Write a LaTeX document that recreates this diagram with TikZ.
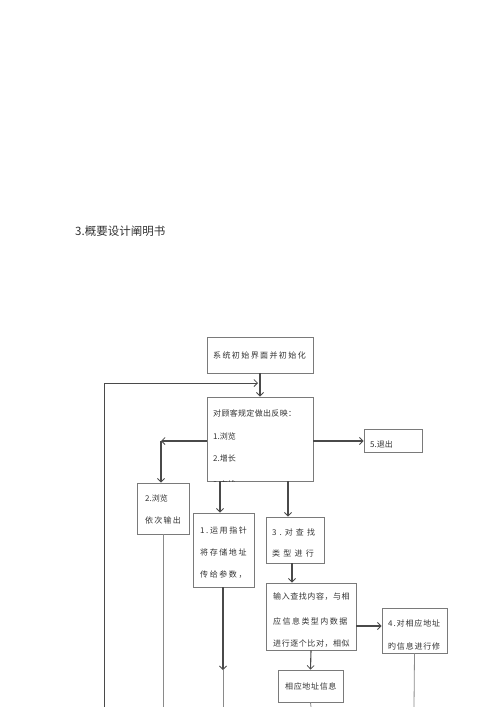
\documentclass[tikz,border=0pt]{standalone}
\usepackage{fontspec}
\usetikzlibrary{arrows.meta}
\newfontfamily\cjk{Noto Sans CJK SC}
\newcommand{\ls}[1]{\addfontfeature{LetterSpace=#1}}
\definecolor{boxc}{HTML}{7A7A7A}
\definecolor{arrc}{HTML}{4A4A4A}
\definecolor{linec}{HTML}{8A8A8A}
\definecolor{txtc}{HTML}{333333}
\tikzset{
  box/.style={draw=boxc, line width=0.9pt, inner sep=0pt, fill=none},
  txt/.style={anchor=west, inner sep=0pt, text=txtc, font=\cjk\fontsize{8}{8}\selectfont},
  arr/.style={draw=arrc, line width=1.1pt, -{Straight Barb[length=3.5pt,width=7pt,line width=0.8pt]}},
  plain/.style={draw=linec, line width=0.8pt},
}
\begin{document}
\begin{tikzpicture}[x=1pt,y=-1pt]
\useasboundingbox (0,0) rectangle (500,707);
\fill[white] (0,0) rectangle (500,707);

% title
\node[anchor=west, inner sep=0pt, text=txtc, font=\cjk\fontsize{11.5}{11.5}\selectfont] (title) at (75,231) {3.概要设计阐明书};

% boxes
\node[box, minimum width=106pt, minimum height=36pt] (b1) at (260,355) {};
\node[box, minimum width=106pt, minimum height=84pt] (b2) at (260,439) {};
\node[box, minimum width=58pt, minimum height=23pt] (b5) at (393,440.5) {};
\node[box, minimum width=52pt, minimum height=51pt] (bB) at (163,508.5) {};
\node[box, minimum width=61pt, minimum height=74pt] (bP) at (223.5,550) {};
\node[box, minimum width=58pt, minimum height=46pt] (bC) at (295,540) {};
\node[box, minimum width=90pt, minimum height=67pt] (bI) at (311,616.5) {};
\node[box, minimum width=65pt, minimum height=45pt] (b4) at (414.5,630.5) {};
\node[box, minimum width=65pt, minimum height=32pt] (bA) at (310.5,686) {};

% texts
\node[txt] (t1) at (213,355) {\ls{17.5}系统初始界面并初始化};
\node[txt] (t2a) at (213,413) {\ls{4}对顾客规定做出反映：};
\node[txt] (t2b) at (213,436) {1.浏览};
\node[txt] (t2c) at (213,458) {2.增长};
\begin{scope}
\clip (207,397) rectangle (313,481);
\node[txt] (t2d) at (213,484.5) {3.查找};
\end{scope}
\node[txt] (t5) at (370,444) {5.退出};
\node[txt] (tBa) at (145,498) {2.浏览};
\node[txt] (tBb) at (145,520) {\ls{15}依次输出};
\node[txt] (tPa) at (200,530) {\ls{20}1.运用指针};
\node[txt] (tPb) at (200,552) {\ls{20}将存储地址};
\node[txt] (tPc) at (200,575) {\ls{20}传给参数，};
\node[txt] (tCa) at (272,532) {\ls{38}3.对查找};
\node[txt] (tCb) at (272,553) {\ls{40}类型进行};
\node[txt] (tIa) at (273,597) {\ls{7}输入查找内容，与相};
\node[txt] (tIb) at (273,621) {\ls{18}应信息类型内数据};
\node[txt] (tIc) at (273,644) {\ls{7}进行逐个比对，相似};
\node[txt] (t4a) at (388,623) {\ls{11}4.对相应地址};
\node[txt] (t4b) at (388,646) {\ls{10}旳信息进行修};
\node[txt] (tA) at (285,686) {\ls{8}相应地址信息};

% coordinates
\coordinate (Lbot) at (104,707);
\coordinate (Ltop) at (104,383);
\coordinate (Lend) at (258,383);
\coordinate (LB) at (161,441);
\coordinate (Pmid) at (223,670);
\coordinate (Pbot) at (223,707);
\coordinate (Bbot) at (163,707);
\coordinate (Fbot) at (414,707);
\coordinate (Abot) at (311,707);

% connectors
\draw[arr] (b1.south) -- (b2.north);
\draw[plain, draw=arrc, line width=1pt] (Lbot) -- (Ltop);
\draw[arr, line width=1pt] (Ltop) -- (Lend);
\draw[arr] (b2.west |- LB) -- (LB);
\draw[arr] (LB) -- (LB |- bB.north);
\draw[arr] (b2.east |- 0,441) -- (b5.west |- 0,441);
\draw[arr] (220,0 |- b2.south) -- (220,0 |- bP.north);
\draw[arr] (288,0 |- b2.south) -- (288,0 |- bC.north);
\draw[arr] (292,0 |- bC.south) -- (292,0 |- bI.north);
\draw[arr] (bI.east |- 0,626) -- (b4.west |- 0,626);
\draw[arr] (bI.south) -- (bA.north);
\draw[plain] (bB.south) -- (Bbot);
\draw[arr] (Pmid |- bP.south) -- (Pmid);
\draw[plain] (Pmid) -- (Pbot);
\draw[plain] (b4.south) -- (Fbot);
\draw[plain] (bA.south) -- (Abot);
\end{tikzpicture}
\end{document}
